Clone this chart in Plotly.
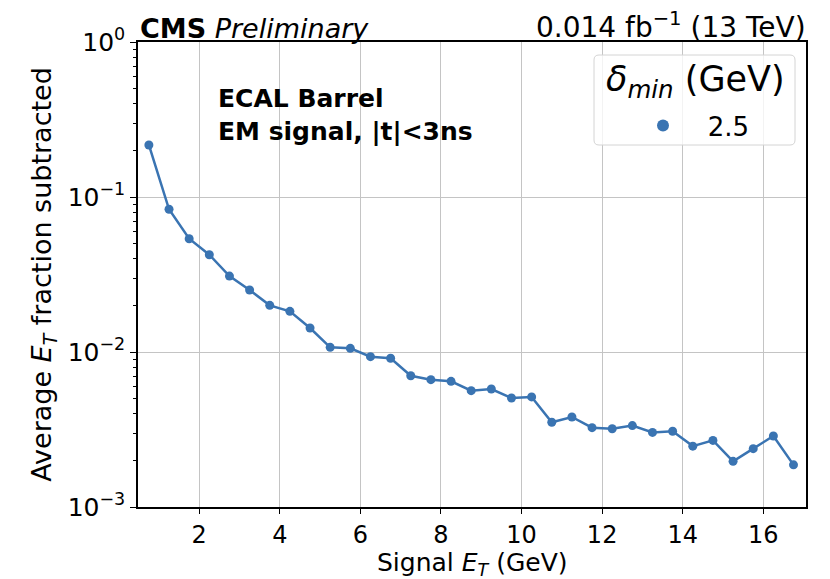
import plotly.graph_objects as go

signal_et = [0.75, 1.25, 1.75, 2.25, 2.75, 3.25, 3.75, 4.25, 4.75, 5.25, 5.75,
             6.25, 6.75, 7.25, 7.75, 8.25, 8.75, 9.25, 9.75, 10.25, 10.75,
             11.25, 11.75, 12.25, 12.75, 13.25, 13.75, 14.25, 14.75, 15.25,
             15.75, 16.25, 16.75]
frac_sub = [0.2166, 0.0833, 0.0538, 0.0424, 0.0309, 0.0251, 0.0200, 0.0183,
            0.01428, 0.01072, 0.01056, 0.00933, 0.00911, 0.00703, 0.00663,
            0.00647, 0.00563, 0.00577, 0.00505, 0.00513, 0.00352, 0.00381,
            0.00325, 0.00320, 0.00335, 0.00303, 0.00308, 0.00247, 0.00269,
            0.00197, 0.00238, 0.00287, 0.00187]
legend_label = "2.5"
x_ticks = [2, 4, 6, 8, 10, 12, 14, 16]
y_ticks = [1e-3, 1e-2, 1e-1, 1]
y_ticktext = ["10<sup>−3</sup>", "10<sup>−2</sup>", "10<sup>−1</sup>", "10<sup>0</sup>"]

color = "#3a74b2"
font = "DejaVu Sans"

# plot area in pixels
L, R, T, B = 138, 806, 42, 507
W, H = R - L, B - T


def px(xp):
    return (xp - L) / W


def py(yp):
    return (B - yp) / H


fig = go.Figure()
fig.add_trace(go.Scatter(
    x=signal_et, y=frac_sub, mode="lines+markers",
    line=dict(color=color, width=2.5),
    marker=dict(color=color, size=9),
    showlegend=False,
))
fig.add_trace(go.Scatter(
    x=[None], y=[None], mode="markers", name="\u00a0\u00a0\u00a0" + legend_label,
    marker=dict(color=color, size=9),
))

fig.update_layout(
    width=830, height=579,
    margin=dict(l=L, r=830 - R, t=T, b=579 - B, autoexpand=False),
    plot_bgcolor="white", paper_bgcolor="white",
    font=dict(family=font, color="black", size=25),
    legend=dict(
        font=dict(size=26, family=font),
        x=px(643), xanchor="left", y=py(102), yanchor="top",
        bgcolor="rgba(0,0,0,0)", borderwidth=0,
        itemsizing="constant",
    ),
    xaxis=dict(
        range=[0.48, 17.06],
        tickvals=x_ticks,
        ticks="outside", ticklen=5, tickwidth=1, tickcolor="black",
        showline=True, linecolor="black", linewidth=1.5, mirror=True,
        showgrid=True, gridcolor="#c4c4c4", gridwidth=1,
        zeroline=False, automargin=False,
        tickfont=dict(size=24),
    ),
    yaxis=dict(
        type="log", range=[-3, 0],
        tickvals=y_ticks, ticktext=y_ticktext,
        ticks="outside", ticklen=6, tickwidth=1, tickcolor="black",
        minor=dict(ticks="outside", ticklen=3, tickwidth=1, tickcolor="black",
                   dtick="D1", showgrid=False),
        showline=True, linecolor="black", linewidth=1.5, mirror=True,
        showgrid=True, gridcolor="#c4c4c4", gridwidth=1,
        zeroline=False, automargin=False,
        tickfont=dict(size=25),
        title=dict(text="Average <i>E<sub>T</sub></i> fraction subtracted", font=dict(size=27), standoff=8),
    ),
)

# x-axis title
fig.add_annotation(
    xref="paper", yref="paper", x=0.5, y=py(564), xanchor="center", yanchor="middle",
    text="Signal <i>E<sub>T</sub></i> (GeV)", showarrow=False, font=dict(size=25, family=font),
    borderpad=0,
)

# legend frame (rounded box)
x0, x1, y0, y1 = px(594), px(795), py(145), py(55)
rx, ry = 5 / W, 5 / H
path = (f"M {x0+rx},{y0} L {x1-rx},{y0} Q {x1},{y0} {x1},{y0+ry} "
        f"L {x1},{y1-ry} Q {x1},{y1} {x1-rx},{y1} L {x0+rx},{y1} "
        f"Q {x0},{y1} {x0},{y1-ry} L {x0},{y0+ry} Q {x0},{y0} {x0+rx},{y0} Z")
fig.add_shape(type="path", path=path, xref="paper", yref="paper",
              fillcolor="rgba(255,255,255,0.8)", line=dict(color="#d4d4d4", width=1),
              layer="above")
fig.add_annotation(
    xref="paper", yref="paper", x=px(695), y=py(81), xanchor="center", yanchor="middle",
    text="<i>δ<sub>min</sub></i> (GeV)", showarrow=False, font=dict(size=35, family=font),
)

fig.add_annotation(
    xref="paper", yref="paper", x=0, y=1, xanchor="left", yanchor="bottom",
    text="<b>CMS</b> <i>Preliminary</i>", showarrow=False,
    font=dict(size=27, family=font), yshift=-4,
)
fig.add_annotation(
    xref="paper", yref="paper", x=1, y=1, xanchor="right", yanchor="bottom",
    text="0.014 fb<sup>−1</sup> (13 TeV)", showarrow=False,
    font=dict(size=28, family=font), yshift=-4, xshift=2,
)
fig.add_annotation(
    xref="paper", yref="paper", x=px(216), y=py(98), xanchor="left", yanchor="middle",
    text="<b>ECAL Barrel</b>", showarrow=False, font=dict(size=25, family=font),
)
fig.add_annotation(
    xref="paper", yref="paper", x=px(216), y=py(131), xanchor="left", yanchor="middle",
    text="<b>EM signal, |t|<3ns</b>", showarrow=False, font=dict(size=25, family=font),
)

fig.write_html("out.html")
